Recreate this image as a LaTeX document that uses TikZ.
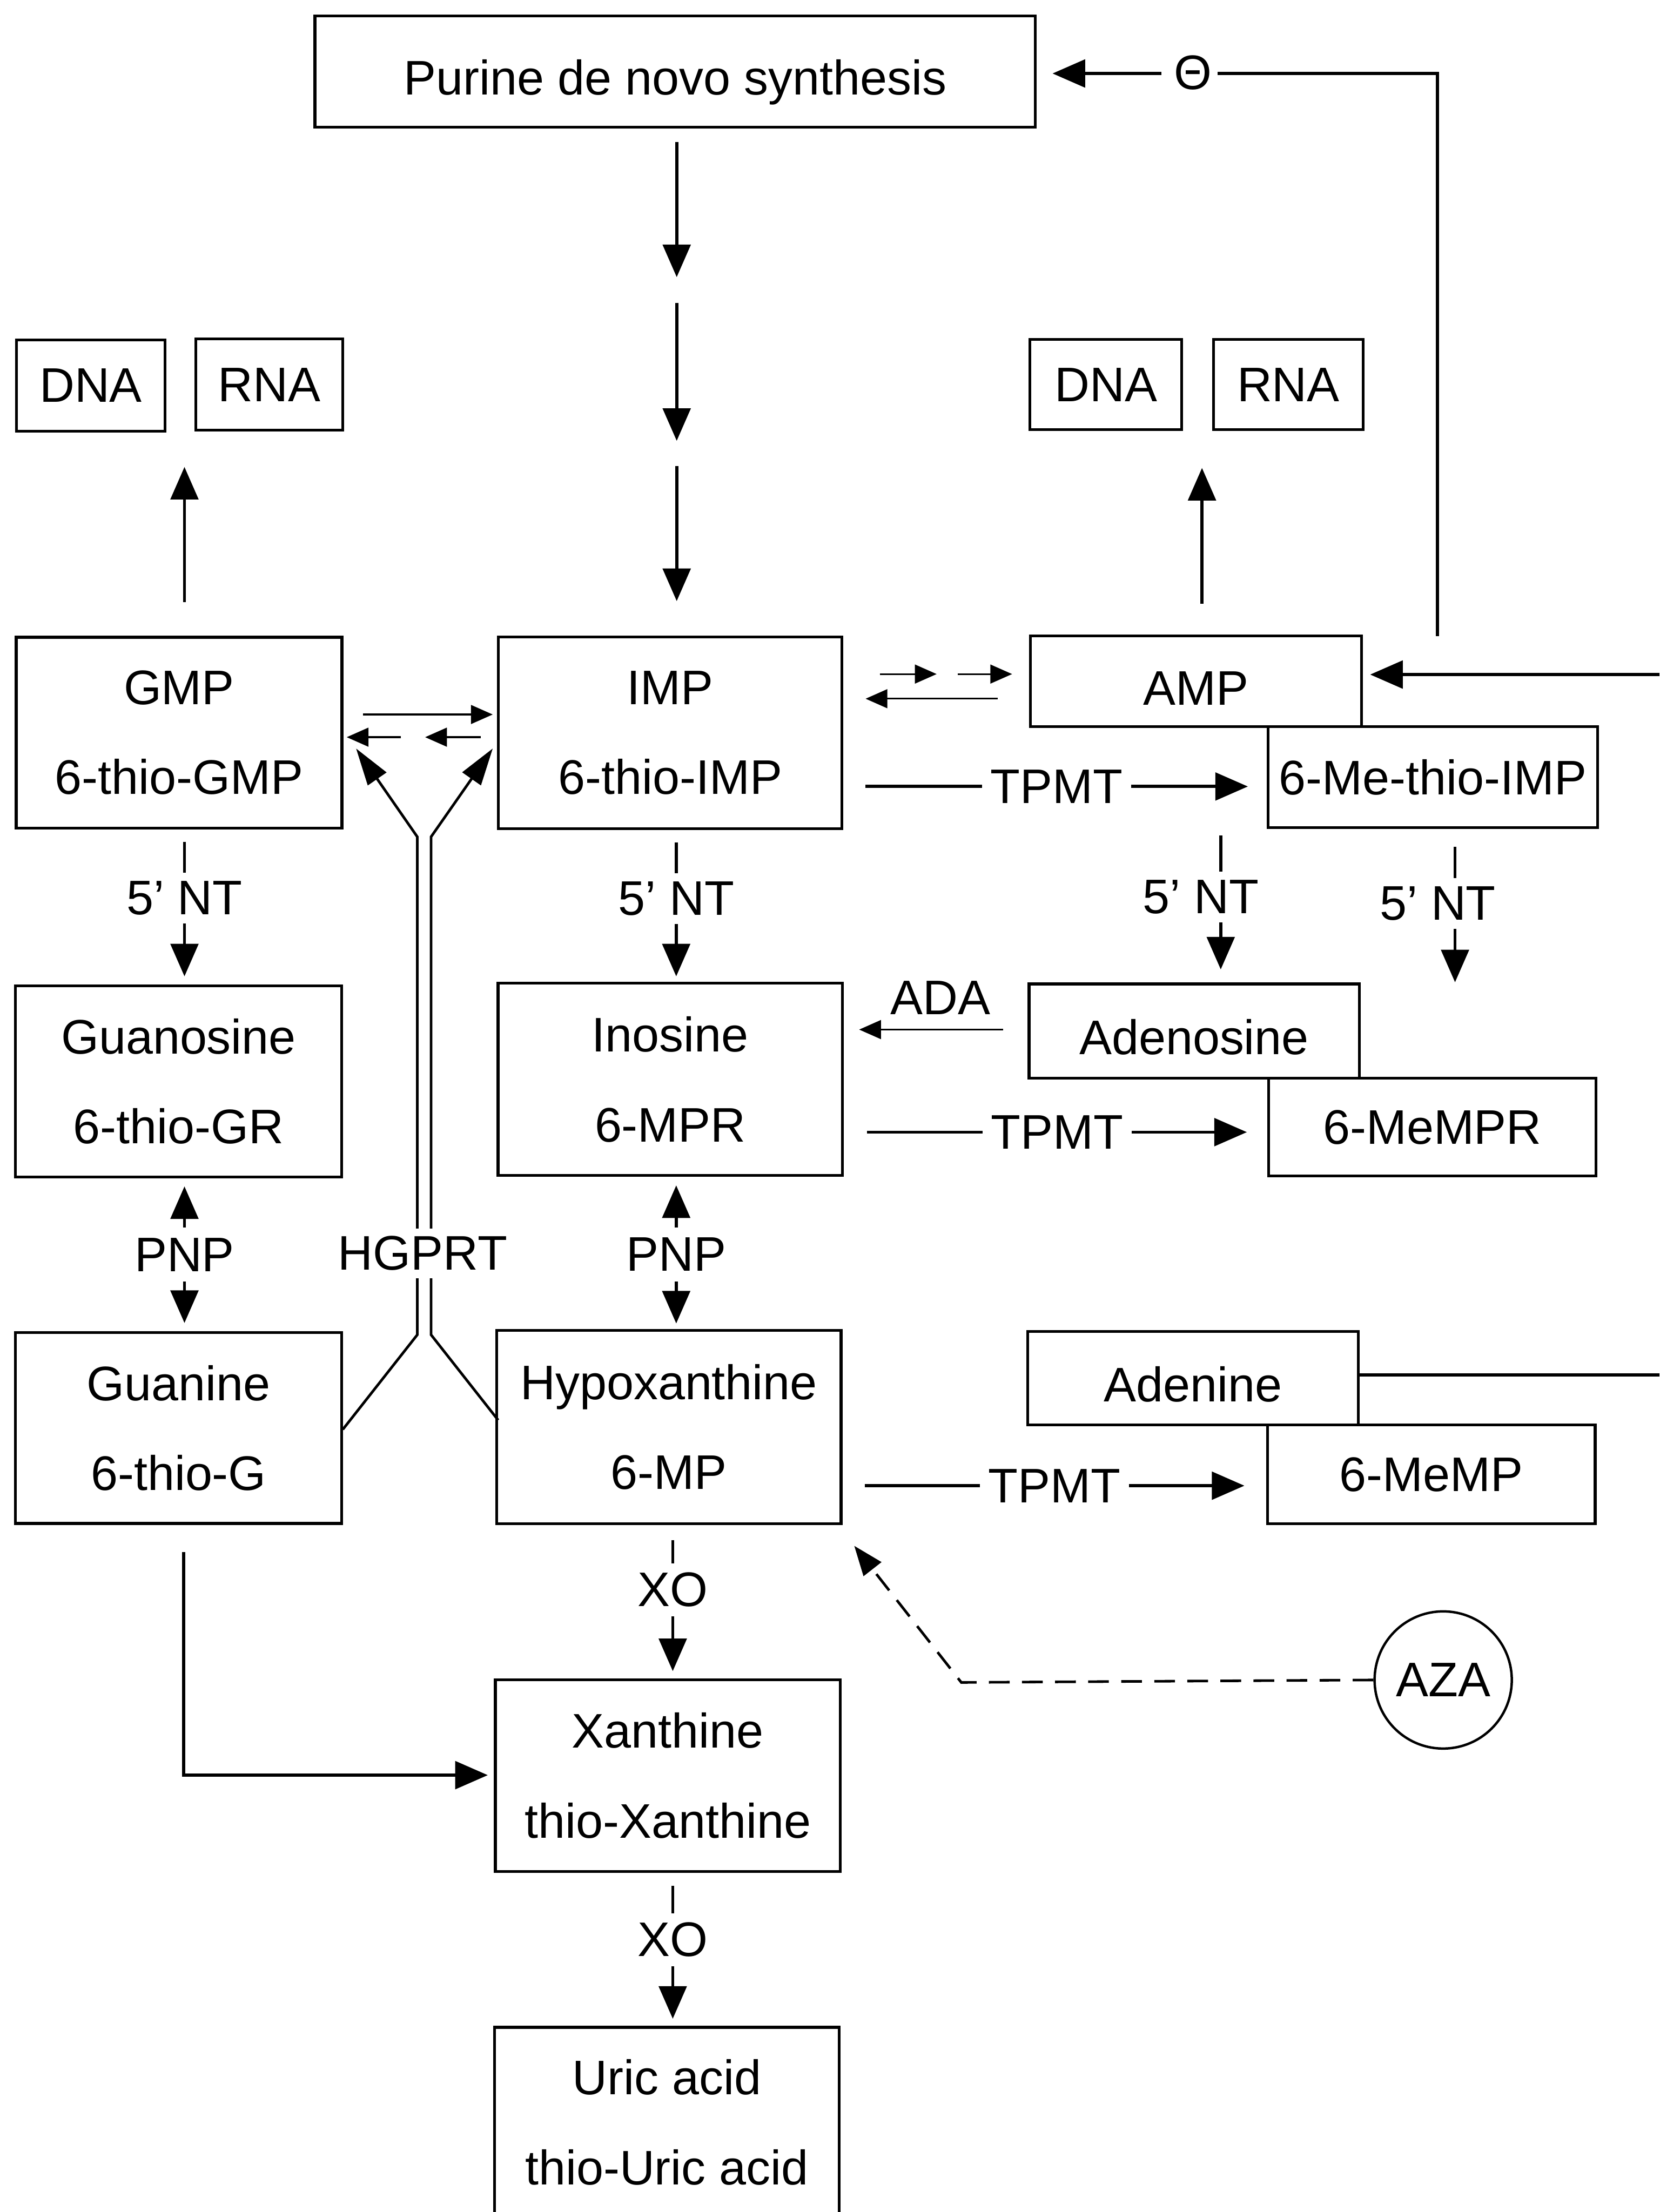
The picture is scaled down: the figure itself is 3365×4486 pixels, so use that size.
\documentclass[tikz,border=0pt]{standalone}
\usepackage{fontspec}
\setmainfont{Liberation Sans}
\usetikzlibrary{arrows.meta,calc}
\newcommand\fs{\fontsize{28}{51.8}\selectfont}
\begin{document}
\begin{tikzpicture}[x=0.01cm,y=-0.01cm,
  box/.style={draw,line width=1.6pt,inner sep=0pt,align=center,font=\fs},
  low/.style={text height=0.95cm,text depth=0pt},
  lbl/.style={fill=white,font=\fs,inner xsep=0.17cm,inner ysep=0.17cm},
  arr/.style={line width=1.8pt,-{Triangle[length=0.66cm,width=0.56cm]}},
  dbl/.style={line width=1.8pt,{Triangle[length=0.66cm,width=0.56cm]}-{Triangle[length=0.66cm,width=0.56cm]}},
  thinarr/.style={line width=1pt,-{Triangle[length=0.44cm,width=0.38cm]}},
  ln/.style={line width=1.8pt},
  hg/.style={line width=1.5pt,{Triangle[length=0.75cm,width=0.45cm]}-},
]
\useasboundingbox (0,0) rectangle (3365,4486);
\begin{scope}
\clip (0,0) rectangle (3365,4486);
% boxes
\node[box,low,minimum width=14.60cm,minimum height=2.26cm] (purine) at (1369,145) {Purine de novo synthesis};
\node[box,minimum width=3.01cm,minimum height=1.85cm] (dnaL) at (184,782) {DNA};
\node[box,minimum width=2.98cm,minimum height=1.85cm] (rnaL) at (546,780) {RNA};
\node[box,minimum width=3.08cm,minimum height=1.83cm] (dnaR) at (2242,780) {DNA};
\node[box,minimum width=3.03cm,minimum height=1.83cm] (rnaR) at (2612,780) {RNA};
\node[box,minimum width=6.60cm,minimum height=3.87cm] (gmp) at (363,1486) {GMP\\6-thio-GMP};
\node[box,minimum width=6.96cm,minimum height=3.88cm] (imp) at (1359,1486) {IMP\\6-thio-IMP};
\node[box,low,minimum width=6.71cm,minimum height=1.84cm] (amp) at (2425,1382) {AMP};
\node[box,minimum width=6.67cm,minimum height=2.04cm] (meimp) at (2905,1576) {6-Me-thio-IMP};
\node[box,minimum width=6.61cm,minimum height=3.88cm] (guo) at (362,2193) {Guanosine\\6-thio-GR};
\node[box,minimum width=6.98cm,minimum height=3.90cm] (ino) at (1359,2189) {Inosine\\6-MPR};
\node[box,low,minimum width=6.69cm,minimum height=1.91cm] (ado) at (2421,2091) {Adenosine};
\node[box,minimum width=6.63cm,minimum height=1.98cm] (mempr) at (2904,2286) {6-MeMPR};
\node[box,minimum width=6.61cm,minimum height=3.87cm] (gua) at (362,2896) {Guanine\\6-thio-G};
\node[box,minimum width=6.98cm,minimum height=3.92cm] (hyp) at (1356,2894) {Hypoxanthine\\6-MP};
\node[box,low,minimum width=6.70cm,minimum height=1.90cm] (ade) at (2419,2795) {Adenine};
\node[box,minimum width=6.64cm,minimum height=2.01cm] (memp) at (2902,2990) {6-MeMP};
\node[box,minimum width=6.99cm,minimum height=3.89cm] (xan) at (1354,3601) {Xanthine\\thio-Xanthine};
\node[box,minimum width=6.98cm,minimum height=3.85cm] (uric) at (1352,4304) {Uric acid\\thio-Uric acid};
\node[draw,circle,line width=1.4pt,minimum size=2.78cm,inner sep=0pt,font=\fs] (aza) at (2926,3407) {AZA};
\node[font=\fs,inner sep=0.1cm] (theta) at (2419,147) {Θ};
% de novo arrows
\draw[arr] (1372,288) -- (1372,562);
\draw[arr] (1372,614) -- (1372,894);
\draw[arr] (1372,945) -- (1372,1219);
% to DNA/RNA
\draw[arr] (374,1221) -- (374,947);
\draw[arr] (2437,1224) -- (2437,949);
% feedback
\draw[ln] (2914,1290) -- (2914,149) -- (2469,149);
\draw[arr] (2355,149) -- (2134,149);
% reversible thin arrows
\draw[thinarr] (736,1449) -- (999,1449);
\draw[thinarr] (813,1495) -- (703,1495);
\draw[thinarr] (975,1495) -- (862,1495);
\draw[thinarr] (1784,1367) -- (1899,1367);
\draw[thinarr] (1942,1367) -- (2052,1367);
\draw[thinarr] (2023,1417) -- (1755,1417);
% TPMT
\draw[arr] (1755,1595) -- node[lbl]{TPMT} (2530,1595);
\draw[arr] (1758,2296) -- node[lbl]{TPMT} (2528,2296);
\draw[arr] (1753,3013) -- node[lbl]{TPMT} (2523,3013);
% ADA
\draw[thinarr] (2034,2088) -- (1742,2088);
\node[font=\fs] (ada) at (1907,2024) {ADA};
% 5' NT
\draw[arr] (374,1707) -- node[lbl,pos=0.42]{5’ NT} (374,1980);
\draw[arr] (1371,1708) -- node[lbl,pos=0.42]{5’ NT} (1371,1980);
\draw[arr] (2475,1694) -- node[lbl,pos=0.46,xshift=-0.4cm]{5’ NT} (2475,1966);
\draw[arr] (2950,1717) -- node[lbl,pos=0.42,xshift=-0.35cm]{5’ NT} (2950,1992);
% PNP
\draw[dbl] (374,2406) -- node[lbl,inner ysep=0.21cm]{PNP} (374,2683);
\draw[dbl] (1371,2404) -- node[lbl,inner ysep=0.21cm]{PNP} (1371,2684);
% XO
\draw[arr] (1364,3123) -- node[lbl,pos=0.38,inner ysep=0.19cm]{XO} (1364,3389);
\draw[arr] (1364,3824) -- node[lbl,pos=0.407,inner ysep=0.19cm]{XO} (1364,4094);
% HGPRT
\draw[hg] (722,1518) -- (846,1697) -- (846,2707) -- (695,2899);
\draw[hg] (999,1518) -- (874,1697) -- (874,2707) -- (1010,2880);
\node[lbl,inner ysep=0.16cm,inner xsep=0.1cm] (hgprt) at (857,2542) {HGPRT};
% Guanine -> Xanthine
\draw[arr] (372,3148) -- (372,3600) -- (989,3600);
% AZA
\draw[line width=1.5pt,dash pattern=on 0.42cm off 0.25cm,-{Triangle[length=0.6cm,width=0.45cm]}] (aza.west) -- (1949,3412) -- (1732,3135);
% right edge connections
\draw[ln] (2754,2788) -- (3365,2788);
\draw[arr] (3365,1368) -- (2778,1368);
\end{scope}
\end{tikzpicture}
\end{document}
